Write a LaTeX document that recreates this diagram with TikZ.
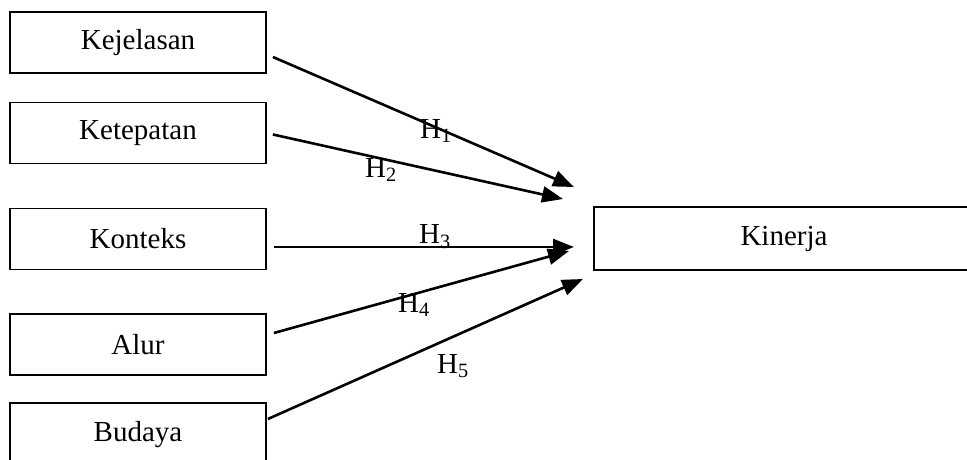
\documentclass[tikz,border=0pt]{standalone}
\usepackage{fontspec}
\setmainfont{Liberation Serif}
\usetikzlibrary{arrows.meta,calc}
\tikzset{
  varbox/.style={draw=black, line width=1.8pt, minimum width=256pt, minimum height=61pt, inner sep=0pt, font=\fontsize{29}{32}\selectfont},
  arr/.style={line width=2.6pt, -{Triangle[length=21pt,width=16pt]}},
  hlab/.style={font=\fontsize{29}{32}\selectfont, inner sep=0pt}
}
\newcommand{\hyp}[1]{H\textsubscript{#1}}
\begin{document}
\begin{tikzpicture}[x=1pt,y=-1pt]
\useasboundingbox (0,0) rectangle (967,460);
\clip (0,0) rectangle (967,460);
\node[varbox] (kej) at (138,42.5) {Kejelasan};
\node[varbox] (ket) at (138,133) {Ketepatan};
\node[varbox] (kon) at (138,239) {Konteks};
\node[varbox] (alu) at (138,344.5) {Alur};
\node[varbox, minimum height=64pt] (bud) at (138,435) {Budaya};
\node[varbox, minimum width=380pt, minimum height=63pt] (kin) at (784,238.5) {Kinerja};
\coordinate (t1) at (574,187);
\coordinate (t2) at (563,199);
\coordinate (t3) at (574,247);
\coordinate (t4) at (569,251);
\coordinate (t5) at (583,279);
\draw[arr] ($(kej.east)+(6,14.5)$) -- (t1);
\draw[arr] ($(ket.east)+(6,1.5)$) -- (t2);
\draw[arr] ($(kon.east)+(7,8)$) -- (t3);
\draw[arr] ($(alu.east)+(7,-11.5)$) -- (t4);
\draw[arr] ($(bud.east)+(1,-16)$) -- (t5);
\node[hlab] (h1) at (436,131) {\hyp{1}};
\node[hlab] (h2) at (381,170) {\hyp{2}};
\node[hlab] (h3) at (435,237) {\hyp{3}};
\node[hlab] (h4) at (414,305) {\hyp{4}};
\node[hlab] (h5) at (453,366) {\hyp{5}};
\end{tikzpicture}
\end{document}
